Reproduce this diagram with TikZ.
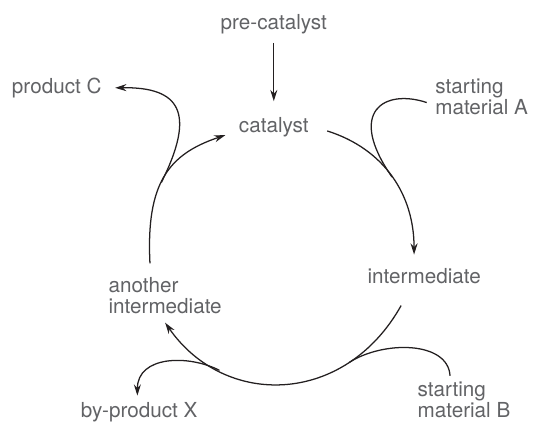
\documentclass[tikz,border=0pt]{standalone}
\usepackage{fontspec}
\setmainfont{TeX Gyre Heros}
\usepackage{tikz}
\usetikzlibrary{arrows.meta}
\usetikzlibrary{positioning}

\definecolor{labelgray}{RGB}{98,99,102}
\definecolor{linecol}{RGB}{35,31,32}

\begin{document}
\begin{tikzpicture}[
      x=0.025cm, y=-0.025cm,
      species/.style={text=labelgray, inner sep=2pt, font=\fontsize{14.7}{14.9}\selectfont},
      link/.style={draw=linecol, line width=0.9pt},
      >={Stealth[length=8pt,width=5pt]}
    ]
    \useasboundingbox (0,0) rectangle (534,422);

    % species round the cycle
    \node [species, anchor=base] (cat) at (273.8,132.7) {catalyst};
    \node [species, above=55pt of cat] (pre) {pre-catalyst};
    \node [species, anchor=base] (int) at (424.2,283.3) {intermediate};
    \node [species, anchor=north west, align=left] (ai) at (105.5,274) {another\\intermediate};

    % things going in and out
    \node [species, anchor=base west] (pc) at (8.9,93.3) {product C};
    \node [species, anchor=north west, align=left] (smA) at (432.2,75.6) {starting\\material A};
    \node [species, anchor=north west, align=left, inner ysep=1pt] (smB) at (414.5,380) {starting\\material B};
    \node [species, anchor=base, inner ysep=1pt] (bp) at (139.2,417.3) {by-product X};

    \draw [link, ->] ([yshift=-4pt]pre.south) -- ([yshift=9.5pt]cat.north);

    % the cycle
    \draw [link, ->] ([xshift=11pt,yshift=-2.5pt]cat.east) .. controls +(57,18) and +(0,-60) .. ([xshift=-7.2pt,yshift=7.5pt]int.north) coordinate[pos=.5] (mA);
    \draw [link, ->] ([xshift=-16.4pt,yshift=-13.4pt]int.south) .. controls +(-56,100) and +(60,86) .. ([yshift=-4.4pt]ai.south) coordinate[pos=.25] (mB) coordinate[pos=.75] (mX);
    \draw [link, ->] ([xshift=-10.8pt,yshift=7.6pt]ai.north) .. controls +(-4,-80) and +(-57,19) .. ([xshift=-7.5pt,yshift=-5.5pt]cat.west) coordinate[pos=.45] (mC);

    % side branches
    \draw [link] ([xshift=-3.9pt,yshift=-4.2pt]smA.west) .. controls +(-42,-14) and +(-46,-66) .. (mA);
    \draw [link] ([xshift=-9.9pt,yshift=3pt]smB.north) .. controls +(-2,-35) and +(34,-22) .. (mB);
    \draw [link, ->] (mX) .. controls +(-31,-16) and +(0,-40) .. ([xshift=-1.3pt,yshift=3.5pt]bp.north);
    \draw [link, ->] (mC) .. controls +(35,-70) and +(65,-1) .. ([xshift=7.5pt]pc.east);
\end{tikzpicture}
\end{document}
